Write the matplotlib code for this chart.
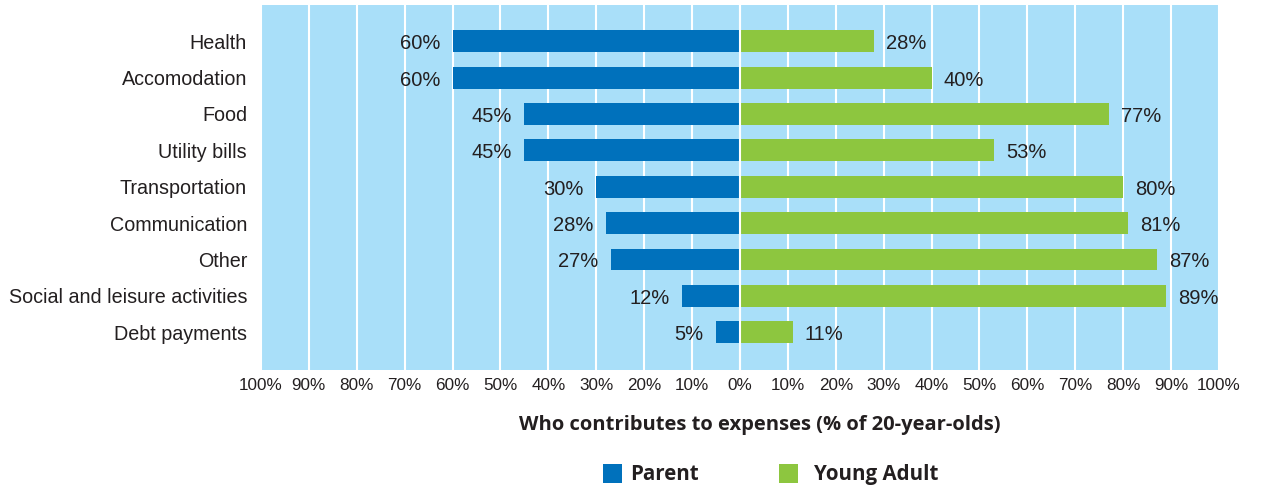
import numpy as np
import matplotlib.pyplot as plt
from matplotlib.patches import Rectangle

# Expense categories and share of 20-year-olds by who pays
categories = ['Health', 'Accomodation', 'Food', 'Utility bills', 'Transportation',
              'Communication', 'Other', 'Social and leisure activities', 'Debt payments']
parent = [60, 60, 45, 45, 30, 28, 27, 12, 5]
young_adult = [28, 40, 77, 53, 80, 81, 87, 89, 11]

blue = '#0071BC'
green = '#8DC63F'
bg = '#A9DFF9'
txt = '#231F20'

fig = plt.figure(figsize=(12.65, 4.9), dpi=100)
ax = fig.add_axes([0.2063, 0.245, 0.7573, 0.745])
ax.set_facecolor(bg)

y = np.arange(len(categories))
ax.barh(y, [-v for v in parent], height=0.6, color=blue, zorder=3)
ax.barh(y, young_adult, height=0.6, color=green, zorder=3)

# value labels on the outer end of each bar
for i, (p, g) in enumerate(zip(parent, young_adult)):
    ax.text(-p - 2.6, i + 0.07, f'{p}%', ha='right', va='center',
            fontsize=14.5, family='Liberation Sans', color=txt, zorder=4)
    ax.text(g + 2.5, i + 0.07, f'{g}%', ha='left', va='center',
            fontsize=14.5, family='Liberation Sans', color=txt, zorder=4)

ticks = np.arange(-100, 101, 10)
ax.set_xticks(ticks)
ax.set_xticklabels([f'{abs(t)}%' for t in ticks], fontsize=12.3,
                   family='Liberation Sans', color=txt)
ax.set_xlim(-100, 100)
ax.set_ylim(9.04, -1.0)
ax.set_yticks(y)
ax.set_yticklabels(categories, fontsize=14.2, family='Liberation Sans', color=txt)
ax.tick_params(axis='x', length=0, pad=6)
ax.tick_params(axis='y', length=0, pad=10)
ax.grid(axis='x', color='white', linewidth=1.5, zorder=1)
ax.axvline(0, color='white', linewidth=1.5, zorder=3.5)
for s in ax.spines.values():
    s.set_visible(False)

fig.text(0.6004, 0.133, 'Who contributes to expenses (% of 20-year-olds)',
         ha='center', va='center', fontsize=14.5, fontweight='bold',
         family='Open Sans', color=txt)

# legend swatches and labels
W, H = 1265, 490
for x0, col, label, gap in [(603, blue, 'Parent', 8), (779, green, 'Young Adult', 16)]:
    fig.patches.append(Rectangle((x0 / W, 1 - 483 / H), 19 / W, 19 / H,
                                 facecolor=col, transform=fig.transFigure))
    fig.text((x0 + 19 + gap) / W, 1 - 474 / H, label, ha='left', va='center',
             fontsize=14.8, fontweight='bold', family='Open Sans', color=txt)

fig.savefig('out.png', dpi=100, facecolor='white')
